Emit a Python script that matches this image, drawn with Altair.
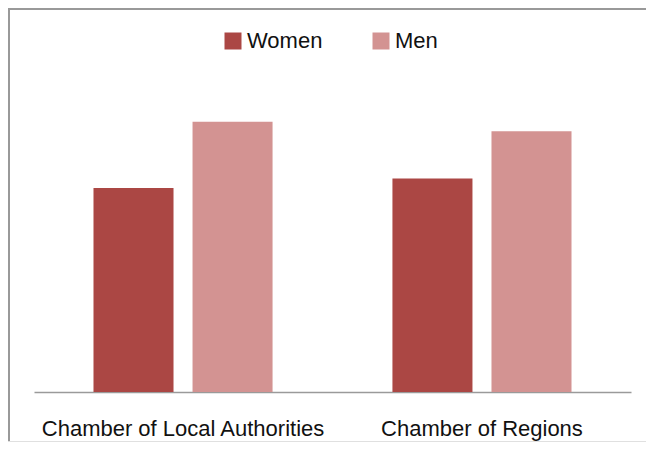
import altair as alt
import pandas as pd

categories = ["Chamber of Local Authorities", "Chamber of Regions"]
series = ["Women", "Men"]
women = [43, 45]
men = [57, 55]
colors = ["#ab4744", "#d39392"]

rows = []
for i, c in enumerate(categories):
    rows.append({"chamber": c, "sex": "Women", "value": women[i]})
    rows.append({"chamber": c, "sex": "Men", "value": men[i]})
df = pd.DataFrame(rows)

bars = alt.Chart(df).mark_bar().encode(
    x=alt.X("chamber:N", sort=categories, title=None,
            scale=alt.Scale(paddingInner=0.401, paddingOuter=0.199),
            axis=alt.Axis(labelAngle=0, ticks=False, tickSize=0, labelPadding=43,
                          labelBaseline="alphabetic", labelFontSize=22, labelLimit=500,
                          labelFont="Liberation Sans", labelColor="#111",
                          domainColor="#9a9a9a", domainWidth=1.6, grid=False)),
    xOffset=alt.XOffset("sex:N", sort=series,
                        scale=alt.Scale(paddingInner=0.192, paddingOuter=0)),
    y=alt.Y("value:Q", scale=alt.Scale(domain=[0, 70]), axis=None),
    color=alt.Color("sex:N", sort=series,
                    scale=alt.Scale(domain=series, range=colors),
                    legend=alt.Legend(title=None, orient="none", legendX=188, legendY=-30,
                                      direction="horizontal", symbolType="square",
                                      symbolSize=289, symbolStrokeWidth=0,
                                      labelFontSize=22, labelFont="Liberation Sans",
                                      labelColor="#111", labelOffset=3,
                                      columnPadding=47, padding=0)),
)

frame = pd.DataFrame({"k": [0]})
top_rule = alt.Chart(frame).mark_rule(color="#999999", strokeWidth=2).encode(
    x=alt.value(-26), x2=alt.value(700), y=alt.value(-51))
left_rule = alt.Chart(frame).mark_rule(color="#999999", strokeWidth=2).encode(
    x=alt.value(-25), y=alt.value(-52), y2=alt.value(400))
bottom_rule = alt.Chart(frame).mark_rule(color="#e0e0e0", strokeWidth=1).encode(
    x=alt.value(-26), x2=alt.value(700), y=alt.value(381.5))

chart = alt.layer(top_rule, left_rule, bottom_rule, bars).properties(
    width=597, height=332,
    autosize=alt.AutoSizeParams(type="none"),
    padding={"left": 26, "top": 52, "right": 15, "bottom": 50},
    background="white",
).configure_view(stroke=None)

chart.save("out.html", embed_options={"renderer": "svg", "actions": False})
